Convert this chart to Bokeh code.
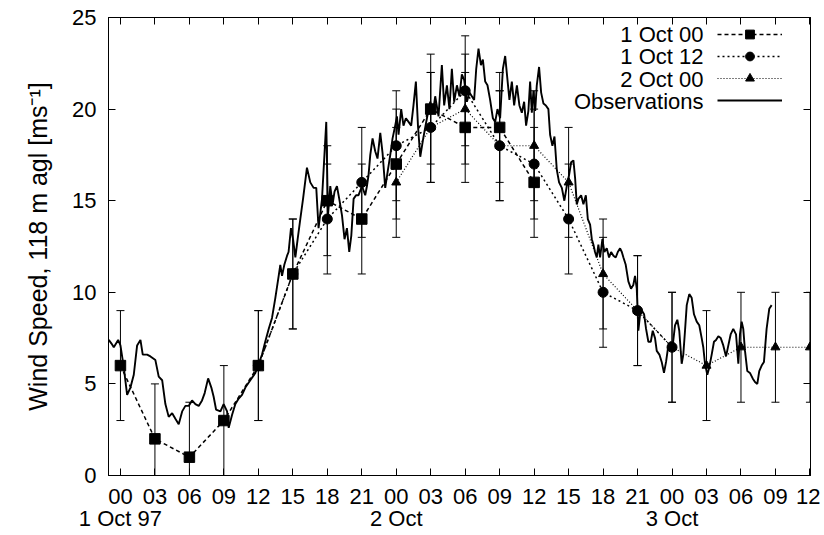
from bokeh.plotting import figure
from bokeh.models import Range1d, FixedTicker, LinearAxis, Legend, LegendItem, Label
from bokeh.embed import file_html
from bokeh.resources import INLINE
from bokeh.core.properties import value

FONT = "Liberation Sans"

# forecast valid times: hours after 00 UTC 1 Oct 97
f1_name = "1 Oct 00"
f1_hours = [0, 3, 6, 9, 12, 15, 18, 21, 24, 27, 30, 33, 36]
f1_speed = [6, 2, 1, 3, 6, 11, 15, 14, 17, 20, 19, 19, 16]

f2_name = "1 Oct 12"
f2_hours = [12, 15, 18, 21, 24, 27, 30, 33, 36, 39, 42, 45, 48]
f2_speed = [6, 11, 14, 16, 18, 19, 21, 18, 17, 14, 10, 9, 7]

f3_name = "2 Oct 00"
f3_hours = [24, 27, 30, 33, 36, 39, 42, 45, 48, 51, 54, 57, 60]
f3_speed = [16, 19, 20, 18, 18, 16, 11, 9, 7, 6, 7, 7, 7]

error_half = 3  # +/- error bar (ms-1)

obs_name = "Observations"
obs_hours = [
    -1.02, -0.78, -0.58, -0.2, 0.0, 0.29, 0.58, 0.87, 1.16, 1.45, 1.74, 1.94, 2.32, 2.61,
    3.04, 3.33, 3.63, 3.91, 4.2, 4.5, 4.78, 5.07, 5.37, 5.65, 5.94, 6.23, 6.52, 6.81, 7.1,
    7.33, 7.63, 7.91, 8.11, 8.32, 8.7, 8.98, 9.28, 9.42, 9.71, 10.0, 10.29, 10.58, 10.87,
    11.3, 11.74, 12.03, 12.32, 12.6, 12.9, 13.19, 13.48, 13.77, 13.91, 14.06, 14.26, 14.5,
    14.63, 14.84, 15.02, 15.22, 15.42, 15.65, 15.89, 16.23, 16.52, 16.81, 17.04, 17.24,
    17.54, 17.91, 18.06, 18.26, 18.46, 18.63, 18.84, 19.04, 19.28, 19.5, 19.71, 19.91,
    20.09, 20.29, 20.5, 20.72, 21.02, 21.3, 21.45, 21.59, 21.74, 21.94, 22.17, 22.37,
    22.61, 22.81, 23.04, 23.28, 23.48, 23.68, 23.91, 24.06, 24.2, 24.43, 24.63, 24.84,
    25.07, 25.3, 25.5, 25.71, 25.89, 26.09, 26.35, 26.67, 26.96, 27.19, 27.39, 27.68,
    27.97, 28.17, 28.41, 28.63, 28.84, 29.04, 29.28, 29.5, 29.71, 29.91, 30.15, 30.37,
    30.58, 30.78, 30.96, 31.16, 31.37, 31.54, 31.74, 31.94, 32.17, 32.41, 32.61, 32.81,
    33.04, 33.28, 33.48, 33.68, 33.85, 34.06, 34.26, 34.5, 34.72, 34.93, 35.13, 35.3,
    35.5, 35.65, 35.8, 35.94, 36.09, 36.23, 36.43, 36.61, 36.81, 37.02, 37.24, 37.39,
    37.59, 37.77, 37.97, 38.17, 38.41, 38.63, 38.84, 39.04, 39.22, 39.42, 39.57, 39.71,
    39.85, 40.09, 40.29, 40.5, 40.67, 40.87, 41.02, 41.16, 41.3, 41.45, 41.59, 41.74,
    41.94, 42.11, 42.32, 42.52, 42.7, 42.9, 43.1, 43.28, 43.48, 43.63, 43.77, 43.97,
    44.2, 44.43, 44.63, 44.78, 44.93, 45.07, 45.22, 45.37, 45.57, 45.74, 45.94, 46.15,
    46.32, 46.52, 46.67, 46.9, 47.1, 47.3, 47.48, 47.68, 47.89, 48.06, 48.26, 48.46,
    48.63, 48.84, 48.98, 49.13, 49.28, 49.5, 49.71, 49.91, 50.15, 50.37, 50.58, 50.72,
    50.87, 51.07, 51.24, 51.45, 51.65, 51.83, 52.03, 52.24, 52.46, 52.7, 52.9, 53.1,
    53.33, 53.57, 53.77, 53.91, 54.06, 54.2, 54.35, 54.55, 54.78, 55.02, 55.22, 55.42,
    55.59, 55.8, 56.0, 56.23, 56.46, 56.67,
]
obs_speed = [
    7.4, 7.2, 7.0, 7.4, 7.1, 5.9, 4.4, 4.8, 5.5, 7.1, 7.4, 6.6, 6.6, 6.5,
    6.3, 5.4, 5.2, 3.9, 3.2, 3.4, 3.1, 2.8, 3.5, 3.8, 3.8, 4.1, 3.9, 3.8, 4.1,
    4.5, 5.3, 4.8, 4.3, 3.6, 3.5, 3.9, 3.5, 2.6, 3.3, 3.9, 4.2, 4.4, 4.8,
    5.2, 5.6, 6.1, 6.6, 7.3, 8.0, 8.6, 9.7, 10.9, 11.5, 10.9, 11.5, 12.0,
    12.2, 13.5, 12.9, 11.9, 12.9, 14.0, 15.1, 16.8, 16.0, 15.7, 15.7, 13.5,
    15.1, 19.3, 14.2, 15.8, 14.8, 15.5, 15.8, 15.1, 14.2, 12.9, 13.5, 12.2,
    13.1, 15.1, 15.3, 15.3, 15.8, 15.3, 15.8, 16.4, 17.5, 18.4, 17.7, 17.3,
    18.7, 17.6, 15.7, 16.7, 17.5, 18.4, 19.1, 19.6, 18.6, 20.0, 19.1, 19.5,
    19.3, 19.1, 20.2, 21.5, 19.1, 17.4, 18.4, 19.5, 20.4, 19.8, 20.7, 19.6,
    22.4, 20.2, 21.3, 20.0, 22.2, 20.4, 21.3, 20.7, 21.9, 21.6, 20.4, 20.9,
    20.7, 20.5, 22.2, 23.3, 22.4, 22.7, 21.5, 21.3, 20.5, 19.5, 19.3, 20.0,
    19.5, 22.2, 22.9, 21.6, 20.5, 21.5, 20.2, 21.3, 20.2, 19.8, 20.4, 19.1,
    19.9, 21.5, 19.8, 21.0, 19.9, 21.3, 22.3, 20.9, 20.3, 20.2, 20.0, 18.6,
    18.0, 18.5, 16.7, 16.0, 15.7, 15.0, 15.8, 16.4, 17.1, 17.2, 16.2, 14.8,
    15.1, 15.3, 14.8, 15.3, 14.0, 13.7, 12.9, 12.6, 12.2, 11.9, 12.6, 11.9,
    12.9, 12.2, 12.4, 11.9, 12.2, 12.0, 11.9, 12.2, 12.4, 12.2, 11.9, 11.5,
    10.6, 10.2, 10.4, 10.9, 10.2, 7.9, 8.8, 9.0, 8.8, 8.0, 7.3, 7.3,
    7.9, 7.5, 6.8, 6.6, 6.2, 5.6, 6.2, 7.1, 7.3, 7.1, 8.2, 8.5,
    7.9, 6.1, 6.6, 7.9, 9.3, 9.9, 9.7, 8.8, 8.4, 8.2, 7.5, 7.0,
    6.1, 5.5, 5.9, 6.6, 7.3, 7.4, 7.6, 7.5, 7.1, 6.5, 7.1, 7.7,
    8.0, 7.7, 6.1, 7.7, 8.4, 8.0, 6.8, 5.7, 5.6, 5.3, 5.1, 5.0,
    5.7, 6.0, 6.2, 8.0, 9.1, 9.3,
]

x_ticks = [0, 3, 6, 9, 12, 15, 18, 21, 24, 27, 30, 33, 36, 39, 42, 45, 48, 51, 54, 57, 60]
x_tick_labels = ["00", "03", "06", "09", "12", "15", "18", "21", "00", "03", "06",
                 "09", "12", "15", "18", "21", "00", "03", "06", "09", "12"]
day_ticks = [0, 24, 48]
day_labels = ["1 Oct 97", "2 Oct", "3 Oct"]
y_ticks = [0, 5, 10, 15, 20, 25]
y_label = "Wind Speed, 118 m agl [ms\u207b\u00b9]"

TICK_SIZE = "22px"

p = figure(width=820, height=533, x_range=Range1d(-1.04, 60.05), y_range=Range1d(0, 25),
           output_backend="svg", toolbar_location=None, x_axis_type=None, y_axis_type=None,
           min_border_left=108, min_border_right=10, min_border_top=17, min_border_bottom=55)
p.outline_line_color = "black"
p.outline_line_width = 1
p.background_fill_color = "white"
p.border_fill_color = "white"


def style_axis(ax, show_labels=True):
    ax.axis_line_color = "black"
    ax.axis_line_width = 1
    ax.major_tick_in = 7
    ax.major_tick_out = 0
    ax.major_tick_line_color = "black"
    ax.minor_tick_line_color = None
    ax.major_label_text_font = FONT
    if show_labels:
        ax.major_label_text_color = "black"
        ax.major_label_text_font_size = TICK_SIZE
    else:
        ax.major_label_text_color = None
        ax.major_label_text_font_size = "0px"
        ax.major_label_standoff = 0


xb = LinearAxis(ticker=FixedTicker(ticks=x_ticks),
                major_label_overrides={t: l for t, l in zip(x_ticks, x_tick_labels)})
style_axis(xb)
xb.major_label_standoff = 13
p.add_layout(xb, "below")

xd = LinearAxis(ticker=FixedTicker(ticks=day_ticks),
                major_label_overrides={t: l for t, l in zip(day_ticks, day_labels)})
style_axis(xd)
xd.axis_line_color = None
xd.major_tick_line_color = None
xd.major_label_standoff = -1
p.add_layout(xd, "below")

xt = LinearAxis(ticker=FixedTicker(ticks=x_ticks))
style_axis(xt, show_labels=False)
p.add_layout(xt, "above")

yl = LinearAxis(ticker=FixedTicker(ticks=y_ticks), axis_label=y_label)
style_axis(yl)
yl.major_label_standoff = 12
yl.axis_label_text_font = FONT
yl.axis_label_text_font_size = "25px"
yl.axis_label_text_font_style = "normal"
yl.axis_label_text_color = "black"
yl.axis_label_standoff = 17
p.add_layout(yl, "left")

yr = LinearAxis(ticker=FixedTicker(ticks=y_ticks))
style_axis(yr, show_labels=False)
p.add_layout(yr, "right")

# error bars
for hrs, spd in ((f1_hours, f1_speed), (f2_hours, f2_speed), (f3_hours, f3_speed)):
    lo = [v - error_half for v in spd]
    hi = [v + error_half for v in spd]
    p.segment(x0=hrs, y0=lo, x1=hrs, y1=hi, line_color="black", line_width=1)
    p.scatter(hrs, lo, marker="dash", size=8, line_color="black", line_width=1)
    p.scatter(hrs, hi, marker="dash", size=8, line_color="black", line_width=1)

l1 = p.line(f1_hours, f1_speed, line_color="black", line_width=1.5, line_dash="4 3")
l2 = p.line(f2_hours, f2_speed, line_color="black", line_width=1.5, line_dash="2 3")
l3 = p.line(f3_hours, f3_speed, line_color="black", line_width=1.2, line_dash="1 2")
lo_ = p.line(obs_hours, obs_speed, line_color="black", line_width=1.9)
m1 = p.scatter(f1_hours, f1_speed, marker="square", size=10.5, color="black")
m2 = p.scatter(f2_hours, f2_speed, marker="circle", size=10, color="black")
m3 = p.scatter(f3_hours, f3_speed, marker="triangle", size=9, color="black")

legend = Legend(items=[
    LegendItem(label=value(""), renderers=[l1, m1]),
    LegendItem(label=value(""), renderers=[l2, m2]),
    LegendItem(label=value(""), renderers=[l3, m3]),
    LegendItem(label=value(""), renderers=[lo_]),
], location=(609, 364), glyph_width=65, glyph_height=22, label_height=22, label_width=0,
    label_standoff=0, spacing=0, padding=0, margin=0, label_text_font_size="1px",
    label_text_color=None, border_line_color=None, background_fill_alpha=0)
p.add_layout(legend, "center")

for i, name in enumerate([f1_name, f2_name, f3_name, obs_name]):
    p.add_layout(Label(x=595, y=441 - 22.3 * i, x_units="screen", y_units="screen",
                       text=name, text_align="right", text_baseline="middle",
                       text_font=FONT, text_font_size="22px", text_color="black"))

open("out.html", "w").write(file_html(p, INLINE))
